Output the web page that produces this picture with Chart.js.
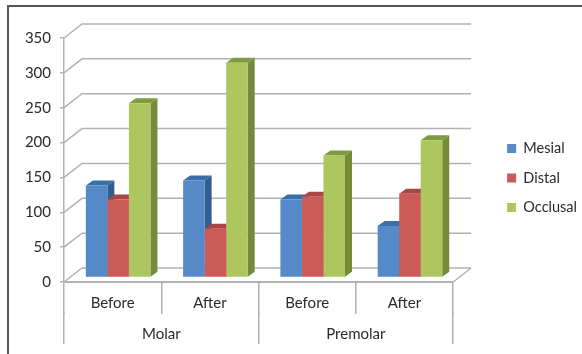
<!DOCTYPE html>
<html>
<head>
<meta charset="utf-8">
<style>
html, body { margin: 0; background: #fff; }
#wrap { position: relative; width: 582px; height: 354px; overflow: hidden; }
#chart { position: absolute; left: 0; top: 0; }
#frame { position: absolute; left: 7px; top: 5px; width: 600px; height: 347px; border: 2px solid #555; border-bottom-color: #ddd; }
</style>
</head>
<body>
<div id="wrap">
<div id="frame"></div>
<canvas id="chart" width="582" height="354"></canvas>
</div>
<script src="https://cdn.jsdelivr.net/npm/chart.js@4"></script>
<script>
var categories = ['Before', 'After', 'Before', 'After'],
    groups = ['Molar', 'Premolar'],
    mesial = [132, 139, 112, 74],
    distal = [112, 70, 116, 120],
    occlusal = [250, 308, 175, 197];

var frontColors = ['#5589c8', '#cb5a58', '#adc65f'],
    sideColors = ['#2f6090', '#a33f3d', '#748b39'],
    topColors = ['#3a6ea6', '#a94644', '#7f9a3f'],
    gridColor = '#b2b2b2',
    textColor = '#2a2a2a',
    font = {family: 'Lato', size: 15},
    legendFont = {family: 'Lato', size: 14.5};

// the fake 3d: back wall and floor, then side and top of every bar
var wall = {dx: 18, dy: -14},
    barDepth = {dx: 7, dy: -5},
    barShift = {dx: 5.5, dy: -4.5},
    legendShift = {dx: 5, dy: 1};

function poly(ctx, color, pts) {
    ctx.fillStyle = color;
    ctx.beginPath();
    ctx.moveTo(pts[0][0], pts[0][1]);
    for (var i = 1; i < pts.length; i++) {
        ctx.lineTo(pts[i][0], pts[i][1]);
    }
    ctx.closePath();
    ctx.fill();
}

var fake3d = {
    id: 'fake3d',
    afterLayout: function(chart) {
        chart.legend.left += legendShift.dx;
        chart.legend.right += legendShift.dx;
        chart.legend.top += legendShift.dy;
        chart.legend.bottom += legendShift.dy;
    },
    beforeDatasetsDraw: function(chart) {
        var ctx = chart.ctx,
            area = chart.chartArea,
            y = chart.scales.y;

        ctx.save();
        ctx.strokeStyle = gridColor;
        ctx.lineWidth = 1.5;
        y.ticks.forEach(function(tick) {
            var py = y.getPixelForValue(tick.value);
            ctx.beginPath();
            ctx.moveTo(area.left, py);
            ctx.lineTo(area.left + wall.dx, py + wall.dy);
            ctx.lineTo(area.right + wall.dx, py + wall.dy);
            ctx.stroke();
        });
        ctx.beginPath();
        ctx.moveTo(area.right, area.bottom);
        ctx.lineTo(area.right + wall.dx, area.bottom + wall.dy);
        ctx.stroke();
        ctx.restore();

        ctx.save();
        ctx.translate(barShift.dx, barShift.dy);
        for (var c = 0; c < categories.length; c++) {
            chart.data.datasets.forEach(function(ds, i) {
                var bar = chart.getDatasetMeta(i).data[c],
                    l = bar.x - bar.width / 2,
                    r = bar.x + bar.width / 2,
                    d = barDepth;
                poly(ctx, sideColors[i], [[r, bar.y], [r + d.dx, bar.y + d.dy], [r + d.dx, bar.base + d.dy], [r, bar.base]]);
                poly(ctx, topColors[i], [[l, bar.y], [l + d.dx, bar.y + d.dy], [r + d.dx, bar.y + d.dy], [r, bar.y]]);
            });
        }
    },
    afterDatasetsDraw: function(chart) {
        chart.ctx.restore();
    }
};

new Chart(document.getElementById('chart'), {
    type: 'bar',
    data: {
        labels: categories,
        datasets: [
            {label: 'Mesial', data: mesial, backgroundColor: frontColors[0]},
            {label: 'Distal', data: distal, backgroundColor: frontColors[1]},
            {label: 'Occlusal', data: occlusal, backgroundColor: frontColors[2]}
        ]
    },
    options: {
        responsive: false,
        animation: false,
        categoryPercentage: 0.664,
        barPercentage: 1,
        layout: {padding: 0},
        scales: {
            y: {
                min: 0,
                max: 350,
                ticks: {stepSize: 50, color: textColor, font: font, padding: 9},
                grid: {drawOnChartArea: false, color: gridColor, lineWidth: 1.5, tickLength: 4},
                border: {color: gridColor, width: 1.5},
                afterFit: function(axis) { axis.width = 64; }
            },
            x: {
                weight: 1,
                ticks: {color: textColor, font: font, padding: -20, maxRotation: 0},
                grid: {drawOnChartArea: false, offset: true, color: gridColor, lineWidth: 1.5, tickLength: 32},
                border: {color: gridColor, width: 2},
                afterFit: function(axis) { axis.height = 30; }
            },
            x2: {
                type: 'category',
                position: 'bottom',
                weight: 2,
                labels: groups,
                offset: true,
                ticks: {color: textColor, font: font, padding: -19, maxRotation: 0},
                grid: {drawOnChartArea: false, offset: true, color: gridColor, lineWidth: 1.5, tickLength: 32},
                border: {display: false},
                afterFit: function(axis) { axis.height = 42; }
            },
            // empty axes, they only hold the room above the plot and before the legend
            gutterTop: {
                type: 'linear',
                position: 'top',
                ticks: {display: false},
                grid: {display: false},
                border: {display: false},
                afterFit: function(axis) { axis.height = 38; }
            },
            gutter: {
                type: 'linear',
                position: 'right',
                ticks: {display: false},
                grid: {display: false},
                border: {display: false},
                afterFit: function(axis) { axis.width = 34; }
            }
        },
        plugins: {
            legend: {
                position: 'right',
                labels: {boxWidth: 9, boxHeight: 9, padding: 15, color: textColor, font: legendFont}
            },
            tooltip: {enabled: false}
        }
    },
    plugins: [fake3d]
});
</script>
</body>
</html>
